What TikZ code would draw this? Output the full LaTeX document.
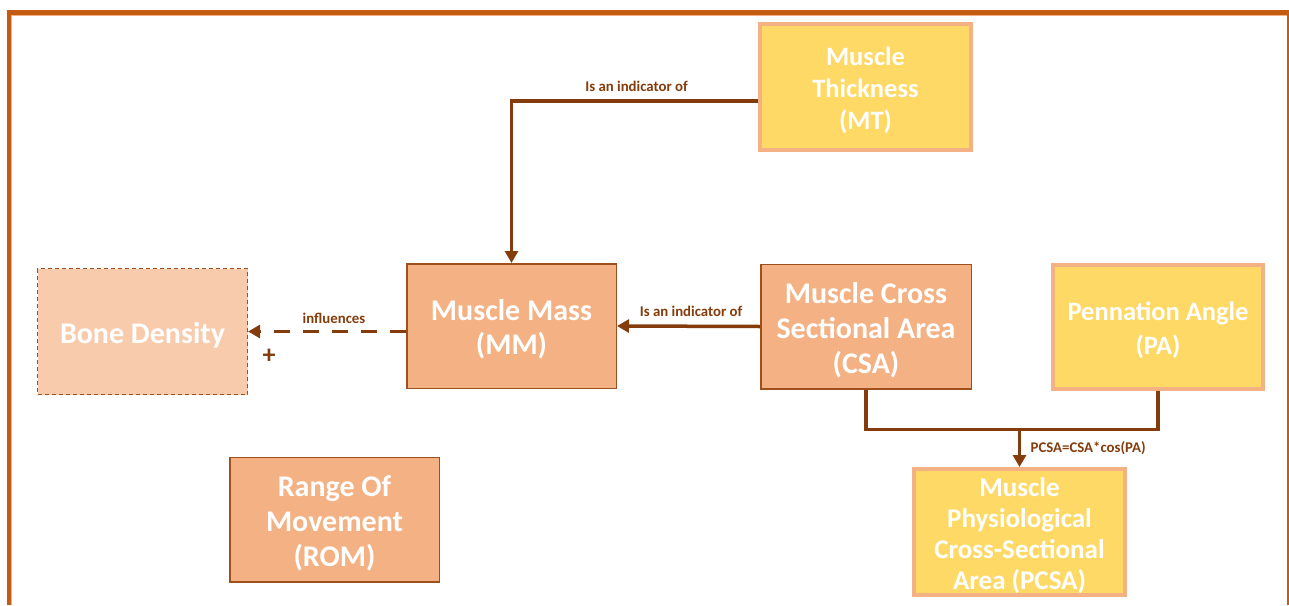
\documentclass[tikz,border=0pt]{standalone}
\usepackage{fontspec}
\setmainfont{Carlito}
\usetikzlibrary{arrows.meta}

\definecolor{frameorange}{HTML}{C55A11}
\definecolor{framelight}{HTML}{F4B183}
\definecolor{boxorange}{HTML}{F4B183}
\definecolor{boxyellow}{HTML}{FFD966}
\definecolor{boxpale}{HTML}{F8CBAD}
\definecolor{linkbrown}{HTML}{843C0C}
\definecolor{edgebrown}{HTML}{9E4F1E}

\tikzset{
  base/.style={rectangle, inner sep=0pt},
  orangebox/.style={base, fill=boxorange, draw=edgebrown, line width=1.5pt,
    minimum width=209.5pt, minimum height=124.5pt},
  yellowbox/.style={base, fill=boxyellow, draw=framelight, line width=4pt,
    minimum width=211pt, minimum height=126pt},
  palebox/.style={base, fill=boxpale, draw=edgebrown, line width=1.2pt,
    dash pattern=on 4pt off 3pt, minimum width=210pt, minimum height=126pt},
  boxtext/.style={align=center, text=white, inner sep=0pt, yshift=-3.5pt,
    font=\bfseries\fontsize{30}{35}\selectfont},
  conn/.style={draw=linkbrown, line width=3.5pt},
  tip/.style={-{Triangle[length=12pt,width=13pt]}},
  linklabel/.style={text=linkbrown, inner sep=0pt,
    font=\bfseries\fontsize{14.8}{17}\selectfont}
}

\begin{document}
\begin{tikzpicture}[x=1pt, y=-1pt]
  \useasboundingbox (0,0) rectangle (1289,605);

  % page frame
  \draw[framelight, line width=1pt] (11.5,15.2) -- (1287,15.2);
  \draw[framelight, line width=1pt] (11.5,15.2) -- (11.5,605);
  \draw[frameorange, line width=4.5pt] (6.7,12.3) -- (1289,12.3);
  \draw[frameorange, line width=4.5pt] (8.9,10) -- (8.9,605);
  \draw[frameorange, line width=1.7pt] (1288.2,10) -- (1288.2,605);

  % concept boxes
  \node[yellowbox] (mt) at (865.5,87) {};
  \node[orangebox] (mm) at (511.5,326) {};
  \node[orangebox, minimum width=210.5pt] (csa) at (866,326.5) {};
  \node[yellowbox, minimum width=210pt, minimum height=124pt] (pa) at (1158,327) {};
  \node[palebox] (bd) at (142.5,331.5) {};
  \node[orangebox] (rom) at (334.5,519.5) {};
  \node[yellowbox] (pcsa) at (1019.5,532) {};

  % box captions
  \node[boxtext, font=\bfseries\fontsize{26.5}{32}\selectfont]
        (mt-t) at (mt.center) {Muscle\\Thickness\\(MT)};
  \node[boxtext, font=\bfseries\fontsize{30}{34}\selectfont]
        (mm-t) at (mm.center) {Muscle Mass\\(MM)};
  \node[boxtext] (csa-t) at (csa.center) {Muscle Cross\\Sectional Area\\(CSA)};
  \node[boxtext, font=\bfseries\fontsize{26.5}{34}\selectfont]
        (pa-t) at (pa.center) {Pennation Angle\\(PA)};
  \node[boxtext] (bd-t) at (bd.center) {Bone Density};
  \node[boxtext] (rom-t) at (rom.center) {Range Of\\Movement\\(ROM)};
  \node[boxtext, font=\bfseries\fontsize{27}{31}\selectfont]
        (pcsa-t) at (pcsa.center)
        {Muscle\\Physiological\\Cross-Sectional\\Area (PCSA)};

  % relations
  \draw[conn, tip] ([yshift=-14pt]mt.west) -| (mm.north);
  \draw[conn, tip] (csa.west) -- (mm.east);
  \draw[conn, tip, dash pattern=on 16pt off 13pt]
        (mm.west |- bd.east) -- (bd.east);

  \coordinate (join) at (1019.5,429.5);
  \draw[conn] (csa.south) |- (join) -| (pa.south);
  \draw[conn, tip] (join) -- (pcsa.north);

  % relation labels
  \node[linklabel] (l1) at (636.5,86) {Is an indicator of};
  \node[linklabel] (l2) at (691,311) {Is an indicator of};
  \node[linklabel] (l3) at (334,318) {influences};
  \node[linklabel, font=\bfseries\fontsize{26}{30}\selectfont]
        (plus) at (269,356.5) {+};
  \node[linklabel, anchor=west] (l4) at (1030.5,448) {PCSA=CSA*cos(PA)};
\end{tikzpicture}
\end{document}
